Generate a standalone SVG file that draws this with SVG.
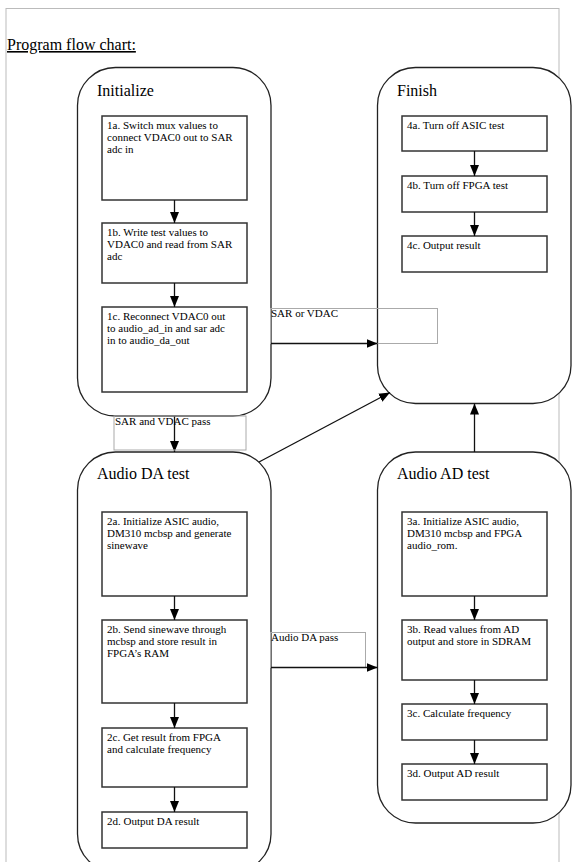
<svg xmlns="http://www.w3.org/2000/svg" width="575" height="862" viewBox="0 0 575 862">
<style>
text{font-family:"Liberation Serif","Times New Roman",serif;fill:#000}
.t{font-size:11px}
.h{font-size:16px}
.cont{fill:#fff;stroke:#222;stroke-width:1.3}
.box{fill:#fff;stroke:#333;stroke-width:1.5}
.lbl{fill:none;stroke:#aaa;stroke-width:1}
.c{stroke:#111;stroke-width:1.3;fill:none;marker-end:url(#ah)}
</style>
<defs>
<marker id="ah" markerUnits="userSpaceOnUse" markerWidth="12" markerHeight="10" refX="11" refY="5" orient="auto">
<path d="M0,0.5 L11,5 L0,9.5 Z" fill="#000"/>
</marker>
</defs>
<rect x="6" y="8.5" width="553" height="870" fill="#fff" stroke="#bbb" stroke-width="1"/>
<text x="7" y="50" style="font-size:16px" text-decoration="underline">Program flow chart:</text>

<g id="initialize">
<rect class="cont" x="77.5" y="67.5" width="193.5" height="348.5" rx="38"/>
<text class="h" x="97" y="96">Initialize</text>
</g>
<g id="box1a"><rect class="box" x="102" y="116" width="145" height="84"/>
<text class="t" x="107" y="129">1a. Switch mux values to</text><text class="t" x="107" y="141">connect VDAC0 out to SAR</text><text class="t" x="107" y="153">adc in</text></g>
<g id="box1b"><rect class="box" x="102" y="223" width="145" height="60"/>
<text class="t" x="107" y="236">1b. Write test values to</text><text class="t" x="107" y="248">VDAC0 and read from SAR</text><text class="t" x="107" y="260">adc</text></g>
<g id="box1c"><rect class="box" x="102" y="307" width="145" height="85"/>
<text class="t" x="107" y="320">1c. Reconnect VDAC0 out</text><text class="t" x="107" y="332">to audio_ad_in and sar adc</text><text class="t" x="107" y="344">in to audio_da_out</text></g>

<g id="finish">
<rect class="cont" x="377.5" y="67.5" width="193.5" height="336" rx="38"/>
<text class="h" x="397" y="96">Finish</text>
</g>
<g id="box4a"><rect class="box" x="402" y="116" width="145" height="35"/><text class="t" x="407" y="129">4a. Turn off ASIC test</text></g>
<g id="box4b"><rect class="box" x="402" y="176" width="145" height="36"/><text class="t" x="407" y="189">4b. Turn off FPGA test</text></g>
<g id="box4c"><rect class="box" x="402" y="236" width="145" height="36"/><text class="t" x="407" y="249">4c. Output result</text></g>

<g id="audio-da">
<rect class="cont" x="77.5" y="452" width="193.5" height="420" rx="38"/>
<text class="h" x="97" y="479">Audio DA test</text>
</g>
<g id="box2a"><rect class="box" x="102" y="512" width="145" height="84"/>
<text class="t" x="107" y="525">2a. Initialize ASIC audio,</text><text class="t" x="107" y="537">DM310 mcbsp and generate</text><text class="t" x="107" y="549">sinewave</text></g>
<g id="box2b"><rect class="box" x="102" y="620" width="145" height="83"/>
<text class="t" x="107" y="633">2b. Send sinewave through</text><text class="t" x="107" y="645">mcbsp and store result in</text><text class="t" x="107" y="657">FPGA’s RAM</text></g>
<g id="box2c"><rect class="box" x="102" y="728" width="145" height="59"/>
<text class="t" x="107" y="741">2c. Get result from FPGA</text><text class="t" x="107" y="753">and calculate frequency</text></g>
<g id="box2d"><rect class="box" x="102" y="812" width="145" height="36"/><text class="t" x="107" y="825">2d. Output DA result</text></g>

<g id="audio-ad">
<rect class="cont" x="377.5" y="452" width="193.5" height="371" rx="38"/>
<text class="h" x="397" y="479">Audio AD test</text>
</g>
<g id="box3a"><rect class="box" x="402" y="512" width="145" height="84"/>
<text class="t" x="407" y="525">3a. Initialize ASIC audio,</text><text class="t" x="407" y="537">DM310 mcbsp and FPGA</text><text class="t" x="407" y="549">audio_rom.</text></g>
<g id="box3b"><rect class="box" x="402" y="620" width="145" height="60"/>
<text class="t" x="407" y="633">3b. Read values from AD</text><text class="t" x="407" y="645">output and store in SDRAM</text></g>
<g id="box3c"><rect class="box" x="402" y="704" width="145" height="36"/><text class="t" x="407" y="717">3c. Calculate frequency</text></g>
<g id="box3d"><rect class="box" x="402" y="764" width="145" height="36"/><text class="t" x="407" y="777">3d. Output AD result</text></g>

<g id="connectors">
<line class="c" x1="174.5" y1="200" x2="174.5" y2="223"/>
<line class="c" x1="174.5" y1="283" x2="174.5" y2="307"/>
<line class="c" x1="174.5" y1="416" x2="174.5" y2="452"/>
<line class="c" x1="174.5" y1="596" x2="174.5" y2="620"/>
<line class="c" x1="174.5" y1="703" x2="174.5" y2="728"/>
<line class="c" x1="174.5" y1="787" x2="174.5" y2="812"/>
<line class="c" x1="474.5" y1="151" x2="474.5" y2="176"/>
<line class="c" x1="474.5" y1="212" x2="474.5" y2="236"/>
<line class="c" x1="474.5" y1="596" x2="474.5" y2="620"/>
<line class="c" x1="474.5" y1="680" x2="474.5" y2="704"/>
<line class="c" x1="474.5" y1="740" x2="474.5" y2="764"/>
<line class="c" x1="474.5" y1="452" x2="474.5" y2="403.5"/>
<line class="c" x1="259" y1="462" x2="390" y2="392.5"/>
<rect class="lbl" x="114" y="416" width="132" height="34"/>
<text class="t" x="115" y="425">SAR and VDAC pass</text>
<rect class="lbl" x="270.5" y="308.5" width="167" height="35"/>
<text class="t" x="271" y="317">SAR or VDAC</text>
<line class="c" x1="271" y1="343.5" x2="377.5" y2="343.5"/>
<rect class="lbl" x="270.5" y="632.5" width="95" height="35"/>
<text class="t" x="271" y="641">Audio DA pass</text>
<line class="c" x1="271" y1="667.5" x2="377.5" y2="667.5"/>
</g>
</svg>
